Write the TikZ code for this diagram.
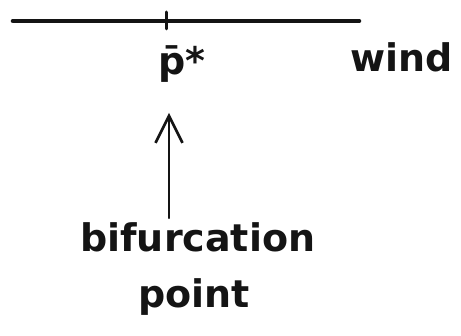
\documentclass[tikz,border=0pt]{standalone}
\usepackage{fontspec}
\setmainfont{DejaVu Sans}
\usetikzlibrary{arrows.meta,positioning,calc}
\definecolor{ink}{HTML}{141414}
\tikzset{
  axis line/.style={draw=ink,line width=4.6pt,line cap=round},
  tickmark/.style={draw=ink,line width=3pt,line cap=round},
  arr/.style={-{Straight Barb[length=27pt,width=27pt,line width=2.6pt]},line width=2.4pt,draw=ink,line cap=round},
  hand/.style={text=ink,inner sep=0pt,font=\fontsize{38}{42}\selectfont\bfseries},
}
\begin{document}
\begin{tikzpicture}[x=1pt,y=-1pt]
  \useasboundingbox (0,0) rectangle (461,336);
  % --- parameter line
  \coordinate (lineL) at (13,21);
  \coordinate (lineR) at (359,21);
  \coordinate (tick) at (166,21);
  \draw[axis line] (lineL) -- (lineR);
  \draw[tickmark] ($(tick)+(0,-9)$) -- ($(tick)+(0,8)$);
  % --- labels
  \node[hand,anchor=base west] (pbar) at (158,75) {p̄*};
  \node[hand,anchor=base west] (wind) at (350,72) {wind};
  \node[hand,anchor=base west] (bif) at (80,252) {bifurcation};
  \node[hand,anchor=base west] (pt) at (138,308) {point};
  % --- arrow
  \coordinate (arrfoot) at (169,218);
  \coordinate (arrtip) at (169,113);
  \draw[arr] (arrfoot) -- (arrtip);
\end{tikzpicture}
\end{document}
